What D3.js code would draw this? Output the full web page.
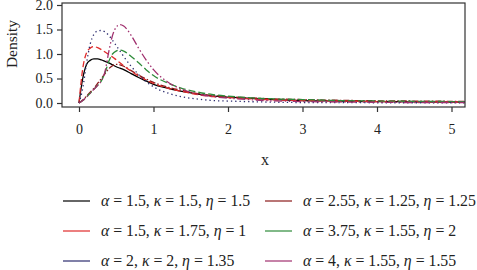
<!DOCTYPE html>
<html>
<head>
<meta charset="utf-8">
<script src="https://cdn.jsdelivr.net/npm/d3@7"></script>
<style>
  body { margin: 0; background: #fff; }
  text { font-family: "Liberation Serif", "DejaVu Serif", serif; fill: #222; }
</style>
</head>
<body>
<div id="main"></div>
<script>
const W = 477, H = 270;

// x positions sampled along the curves
const xs = [0, 0.05, 0.1, 0.15, 0.2, 0.25, 0.3, 0.35, 0.4, 0.45, 0.5, 0.55, 0.6, 0.7, 0.8, 0.9, 1.0, 1.2, 1.4, 1.6, 1.8, 2.0, 2.5, 3.0, 3.5, 4.0, 4.5, 5.0, 5.2];

// density values
const blackVals  = [0, 0.5, 0.78, 0.87, 0.9, 0.9, 0.88, 0.85, 0.82, 0.78, 0.74, 0.71, 0.68, 0.6, 0.52, 0.45, 0.38, 0.3, 0.23, 0.18, 0.14, 0.12, 0.08, 0.05, 0.04, 0.03, 0.025, 0.02, 0.02];
const redVals    = [0, 0.7, 1.02, 1.12, 1.15, 1.13, 1.09, 1.04, 0.99, 0.94, 0.88, 0.82, 0.76, 0.65, 0.55, 0.47, 0.4, 0.3, 0.23, 0.17, 0.13, 0.11, 0.07, 0.05, 0.04, 0.03, 0.025, 0.02, 0.02];
const navyVals   = [0, 0.3, 0.8, 1.2, 1.4, 1.47, 1.48, 1.45, 1.38, 1.28, 1.17, 1.06, 0.95, 0.75, 0.58, 0.44, 0.33, 0.2, 0.12, 0.08, 0.05, 0.04, 0.02, 0.01, 0.01, 0.005, 0.005, 0.003, 0.003];
const darkVals   = [0, 0.06, 0.14, 0.22, 0.3, 0.4, 0.5, 0.6, 0.7, 0.76, 0.79, 0.78, 0.75, 0.66, 0.57, 0.49, 0.42, 0.32, 0.25, 0.19, 0.15, 0.13, 0.09, 0.07, 0.055, 0.045, 0.04, 0.035, 0.035];
const greenVals  = [0, 0.05, 0.12, 0.2, 0.28, 0.36, 0.45, 0.62, 0.85, 1.0, 1.06, 1.08, 1.06, 0.95, 0.82, 0.68, 0.56, 0.4, 0.29, 0.22, 0.17, 0.14, 0.09, 0.07, 0.05, 0.04, 0.035, 0.03, 0.03];
const purpleVals = [0, 0.05, 0.12, 0.2, 0.28, 0.36, 0.45, 0.65, 1.05, 1.38, 1.55, 1.6, 1.57, 1.38, 1.12, 0.88, 0.68, 0.42, 0.27, 0.18, 0.13, 0.1, 0.05, 0.03, 0.02, 0.015, 0.01, 0.01, 0.01];

const series = [
  {label: ["1.5", "1.5", "1.5"],   color: "#000000", dash: null,              vals: blackVals},
  {label: ["2.55", "1.25", "1.25"], color: "#8b1a1a", dash: "6,2,1.5,2",      vals: darkVals},
  {label: ["1.5", "1.75", "1"],    color: "#e02a2a", dash: "6,3",             vals: redVals},
  {label: ["3.75", "1.55", "2"],   color: "#2e8b3a", dash: "7,3",             vals: greenVals},
  {label: ["2", "2", "1.35"],      color: "#2c2c6e", dash: "1.3,3",           vals: navyVals},
  {label: ["4", "1.55", "1.55"],   color: "#a0306e", dash: "8,2.5,1.5,2.5,1.5,2.5", vals: purpleVals}
];

const xTicks = [0, 1, 2, 3, 4, 5];
const yTicks = [0, 0.5, 1.0, 1.5, 2.0];

const svg = d3.select("#main").append("svg").attr("width", W).attr("height", H);

const box = {left: 62, right: 465, top: 3, bottom: 107};
const x = d3.scaleLinear().domain([0, 5]).range([79, 451.5]);
const y = d3.scaleLinear().domain([0, 2]).range([103, 5]);

// curves
const line = d3.line().x((d, i) => x(xs[i])).y(d => y(d)).curve(d3.curveMonotoneX);
const plot = svg.append("g");
plot.append("clipPath").attr("id", "clip").append("rect")
    .attr("x", box.left).attr("y", box.top).attr("width", box.right - box.left).attr("height", box.bottom - box.top);
plot.selectAll("path.curve")
    .data(series)
    .enter()
    .append("path")
    .attr("class", "curve")
    .attr("clip-path", "url(#clip)")
    .attr("d", d => line(d.vals))
    .attr("fill", "none")
    .attr("stroke", d => d.color)
    .attr("stroke-width", 1.3)
    .attr("stroke-dasharray", d => d.dash);

// frame
svg.append("rect")
   .attr("x", box.left).attr("y", box.top)
   .attr("width", box.right - box.left).attr("height", box.bottom - box.top)
   .attr("fill", "none").attr("stroke", "#333").attr("stroke-width", 1.2);

// x axis
const xAxis = d3.axisBottom(x).tickValues(xTicks).tickSize(5).tickPadding(12).tickFormat(d3.format("d"));
const gx = svg.append("g").attr("transform", `translate(0,${box.bottom})`).call(xAxis);
gx.select(".domain").remove();
gx.selectAll("line").attr("stroke", "#333").attr("stroke-width", 1.2);
gx.selectAll("text").attr("font-size", 14).attr("font-family", "Liberation Serif").attr("fill", "#222");

// y axis
const yAxis = d3.axisLeft(y).tickValues(yTicks).tickSize(5).tickPadding(4).tickFormat(d3.format(".1f"));
const gy = svg.append("g").attr("transform", `translate(${box.left},0)`).call(yAxis);
gy.select(".domain").remove();
gy.selectAll("line").attr("stroke", "#333").attr("stroke-width", 1.2);
gy.selectAll("text").attr("font-size", 14).attr("font-family", "Liberation Serif").attr("fill", "#222");

// axis titles
svg.append("text").attr("x", 265).attr("y", 165).attr("text-anchor", "middle")
   .attr("font-size", 16).text("x");
svg.append("text").attr("transform", "translate(17,44) rotate(-90)").attr("text-anchor", "middle")
   .attr("font-size", 15.5).text("Density");

// legend
const legRows = [201, 231, 261];
const legCols = [{lx: 63, tx: 101}, {lx: 265, tx: 303}];
const leg = svg.append("g");
series.forEach(function(s, i){
    const col = legCols[i % 2], ry = legRows[Math.floor(i / 2)];
    leg.append("line")
       .attr("x1", col.lx).attr("x2", col.lx + 27)
       .attr("y1", ry).attr("y2", ry)
       .attr("stroke", s.color).attr("stroke-width", 1.2);
    const t = leg.append("text").attr("x", col.tx).attr("y", ry + 5).attr("font-size", 15.8);
    const parts = [["α", s.label[0]], ["κ", s.label[1]], ["η", s.label[2]]];
    parts.forEach(function(p, j){
        t.append("tspan").attr("font-style", "italic").text(p[0]);
        t.append("tspan").text(" = " + p[1] + (j < 2 ? ", " : ""));
    });
});
</script>
</body>
</html>
